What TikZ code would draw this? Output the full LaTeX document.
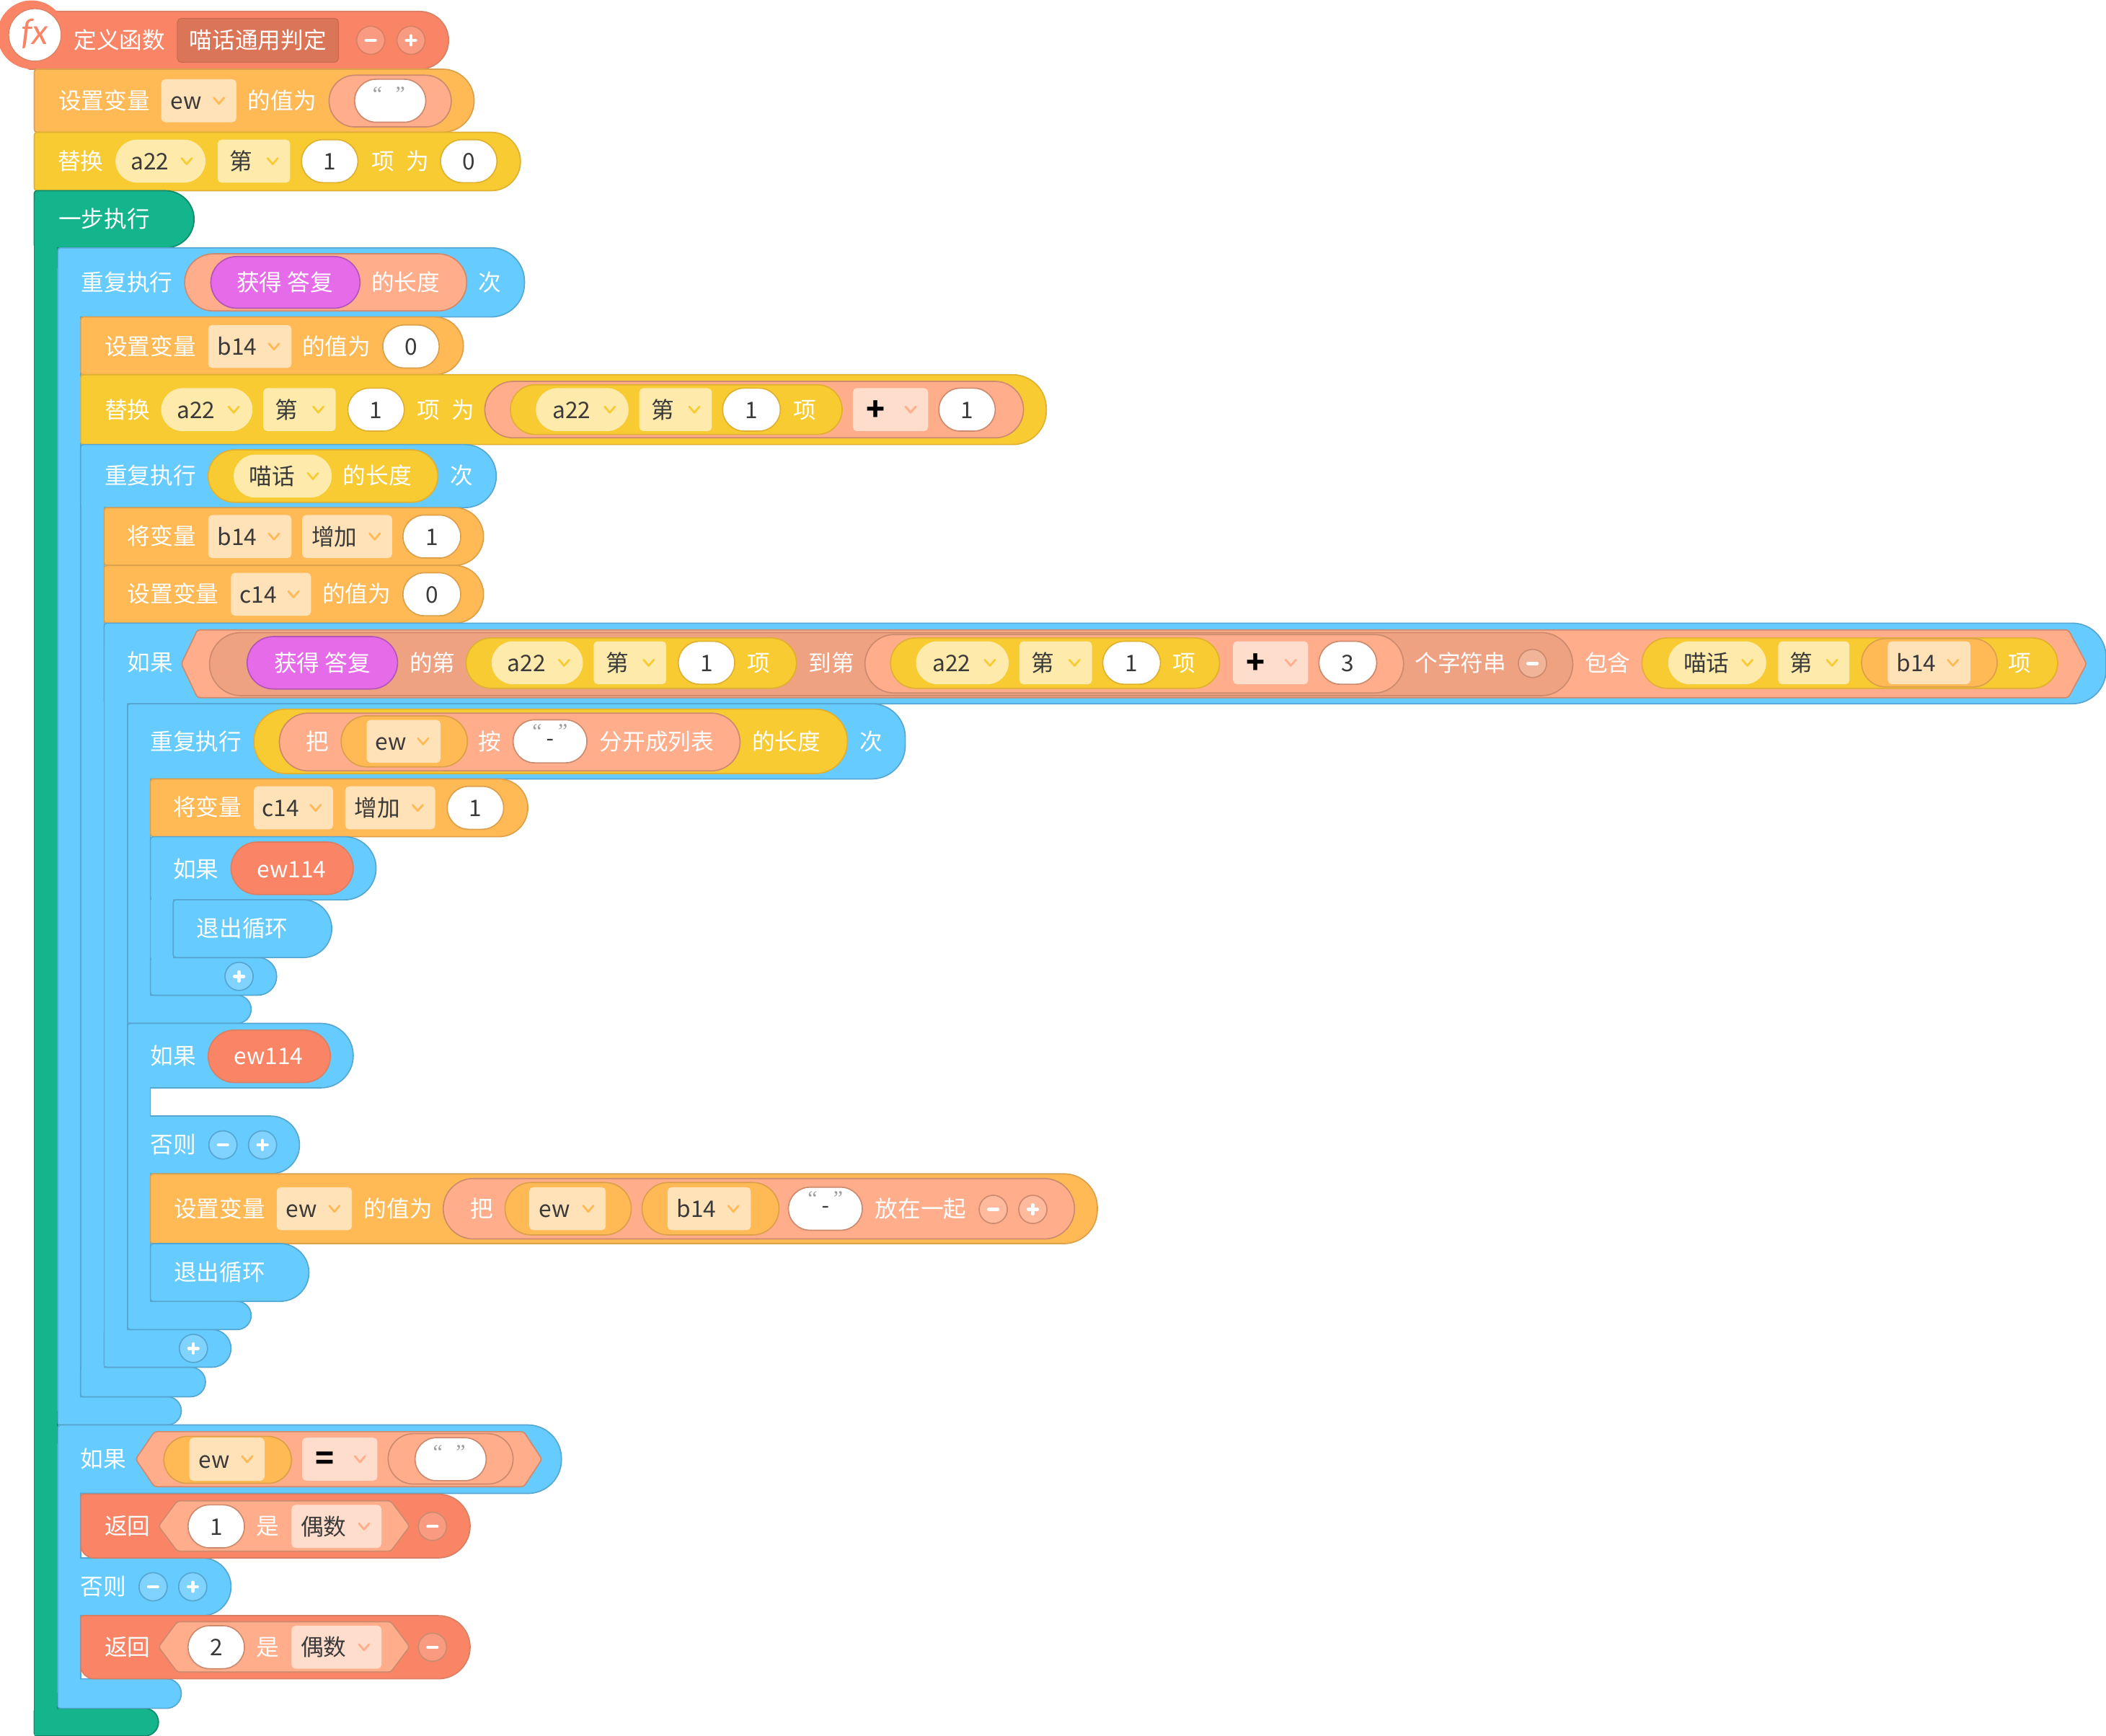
\documentclass[tikz,border=0pt]{standalone}
\usepackage{fontspec}
\setmainfont{Noto Sans CJK SC}
\newfontfamily\qfont{Liberation Serif}
\newfontfamily\fxfont{Lato}
\newcounter{nn}
\definecolor{csa}{HTML}{F98566}\definecolor{csad}{HTML}{D97F63}
\definecolor{cnm}{HTML}{DB7558}
\definecolor{cor}{HTML}{FFB955}\definecolor{cord}{HTML}{DDA04A}
\definecolor{cyl}{HTML}{F8CB33}\definecolor{cyld}{HTML}{E0B030}
\definecolor{cgr}{HTML}{14B48C}\definecolor{cgrd}{HTML}{0E8A6A}
\definecolor{cbl}{HTML}{66CCFF}\definecolor{cbld}{HTML}{55A6D0}
\definecolor{cpu}{HTML}{E66BE8}\definecolor{cpud}{HTML}{B455B8}
\definecolor{cpk}{HTML}{FFAD8A}\definecolor{cpkd}{HTML}{CC8A6E}
\definecolor{cdk}{HTML}{EEA282}
\definecolor{cobx}{HTML}{FFE2B8}\definecolor{cybx}{HTML}{FEEAAB}\definecolor{cpbx}{HTML}{FFDDCC}
\definecolor{ctx}{HTML}{3A3A3A}
\definecolor{cpb}{HTML}{FFB99D}\definecolor{cdb}{HTML}{F2B498}
\tikzset{
 bksa/.style={fill=csa,draw=csad,line width=.9pt},
 bkor/.style={fill=cor,draw=cord,line width=.9pt},
 bkyl/.style={fill=cyl,draw=cyld,line width=.9pt},
 bkgr/.style={fill=cgr,draw=cgrd,line width=.9pt},
 bkbl/.style={fill=cbl,draw=cbld,line width=.9pt},
 bkpu/.style={fill=cpu,draw=cpud,line width=.9pt},
 bkpk/.style={fill=cpk,draw=cpkd,line width=.9pt},
 bkdk/.style={fill=cdk,draw=cpkd,line width=.9pt},
 bkwh/.style={fill=white,draw=cpkd,line width=.9pt},
 bkwy/.style={fill=white,draw=cyld,line width=.9pt},
 bkwo/.style={fill=white,draw=cord,line width=.9pt},
 wlab/.style={text=white,inner sep=0pt,anchor=base,font=\fontsize{17}{17}\selectfont},
 dlab/.style={text=ctx,inner sep=0pt,anchor=base,font=\fontsize{17}{17}\selectfont},
 slab/.style={text=black,inner sep=0pt,anchor=base,font=\bfseries\fontsize{23}{23}\selectfont},
}
% block with a pill right end
\newcommand\sblk[5]{\pgfmathsetmacro\rr{min((#5-#3)/2,25)}%
 \draw[#1] (#2,{#5-4}) [rounded corners=2pt] -- (#2,#3) -- ({#2+5},#3) [rounded corners=\rr pt] -- (#4,#3) -- (#4,#5) -- ({#4-2*\rr-1},#5) [rounded corners=2pt] -- (#2,#5) -- cycle;}
% return block: round bottom left corner on a white notch
\newcommand\rblk[4]{\pgfmathsetmacro\rr{min((#4-#2)/2,25)}%
 \fill[white] (#1,{#4-14}) rectangle ({#1+14},#4);
 \draw[cbld,line width=.9pt] (#1,{#4-14}) -- (#1,#4) -- ({#1+14},#4);
 \draw[bksa] (#1,{#4-14}) [rounded corners=2pt] -- (#1,#2) -- ({#1+5},#2) [rounded corners=\rr pt] -- (#3,#2) -- (#3,#4) -- ({#3-2*\rr-1},#4) [rounded corners=10pt] -- (#1,#4) -- cycle;}
\newcommand\spn[5]{\draw[#1] (#2,#3) rectangle (#4,#5);}
\newcommand\pil[5]{\pgfmathsetmacro\rr{((#5)-(#3))/2}\draw[#1,rounded corners=\rr pt] (#2,{#3}) rectangle (#4,{#5});}
\newcommand\wt[3]{\stepcounter{nn}\node[wlab] (w\arabic{nn}) at ({#1},{#2+6.5}) {#3};}
\newcommand\dt[3]{\stepcounter{nn}\node[dlab] (d\arabic{nn}) at ({#1},{#2+6.5}) {#3};}
\newcommand\st[3]{\stepcounter{nn}\node[slab] (s\arabic{nn}) at ({#1},{#2+8}) {#3};}
\newcommand\chv[3]{\draw[#3,line width=1.5pt,line cap=round,line join=round] ({#1-3.8},{#2-2.2}) -- (#1,{#2+2.2}) -- ({#1+3.8},{#2-2.2});}
% drop-downs: {x0}{x1}{cy}{text}
\newcommand\ddb[6]{\draw[fill=#1,draw=none,rounded corners=3pt] (#3,{#5-16}) rectangle (#4,{#5+16});
 \dt{(#3+#4)/2-9.5}{#5}{#6}\chv{#4-13}{#5}{#2}}
\newcommand\ddp[6]{\draw[fill=#1,draw=none,rounded corners=16pt] (#3,{#5-16}) rectangle (#4,{#5+16});
 \dt{(#3+#4)/2-8}{#5}{#6}\chv{#4-14}{#5}{#2}}
\newcommand\obx[4]{\ddb{cobx}{cor}{#1}{#2}{#3}{#4}}
\newcommand\ybx[4]{\ddb{cybx}{cyl}{#1}{#2}{#3}{#4}}
\newcommand\ypl[4]{\ddp{cybx}{cyl}{#1}{#2}{#3}{#4}}
\newcommand\pbx[4]{\ddb{cpbx}{cpk}{#1}{#2}{#3}{#4}}
\newcommand\wpl[5][bkwh]{\pil{#1}{#2}{#4-16}{#3}{#4+16}\dt{(#2+#3)/2}{#4}{#5}}
\newcommand\qpl[3]{\pil{bkwh}{#1}{#3-16}{#2}{#3+16}%
 \stepcounter{nn}\node[inner sep=0pt,text=gray!75,font=\qfont\fontsize{16}{16}\selectfont] (q\arabic{nn}) at ({(#1+#2)/2-1},{#3-5}) {“\hspace{10pt}”};}
\newcommand\qdh[3]{\pil{bkwh}{#1}{#3-16}{#2}{#3+16}%
 \stepcounter{nn}\node[inner sep=0pt,text=gray!75,font=\qfont\fontsize{16}{16}\selectfont] (q\arabic{nn}) at ({(#1+#2)/2},{#3-5}) {“\makebox[12pt]{\color{ctx}\raisebox{-5pt}{-}}”};}
% buttons: {cx}{cy}{fill}{stroke}
\newcommand\bmn[4]{\draw[fill=#3,draw=#4,line width=.9pt] (#1,#2) circle (10.5);
 \draw[white,line width=2.4pt,line cap=round] ({#1-3.4},#2) -- ({#1+3.4},#2);}
\newcommand\bpl[4]{\bmn{#1}{#2}{#3}{#4}\draw[white,line width=2.4pt,line cap=round] (#1,{#2-3.4}) -- (#1,{#2+3.4});}
\definecolor{cbb}{HTML}{80D3FF}\definecolor{csb}{HTML}{F99B80}
\newcommand\hexa[6]{\draw[bkpk,rounded corners=2pt] (#1,{(#5+#6)/2}) -- (#2,#5) -- (#3,#5) -- (#4,{(#5+#6)/2}) -- (#3,#6) -- (#2,#6) -- cycle;}
\begin{document}
\begin{tikzpicture}[x=1pt,y=-1pt]
\useasboundingbox (0,0) rectangle (1568,1292.6);
% ---- define function
\sblk{bksa}{20}{8.5}{334}{51.5}
\fill[csa] (23.5,25.8) circle (25.5);
\draw[fill=white,draw=csad,line width=.6pt] (26,26) circle (19.5);
\stepcounter{nn}\node[inner sep=0pt,text=csa,font=\fxfont\itshape\fontsize{26}{26}\selectfont] (fx) at (26,25) {fx};
\wt{89}{30}{定义函数}
\draw[fill=cnm,draw=cnm!90!black,line width=.6pt,rounded corners=3pt] (132,13.6) rectangle (252,46.4);
\wt{192}{30}{喵话通用判定}
\bmn{276}{30}{csb}{csad}
\bpl{306}{30}{csb}{csad}
% ---- set ew
\sblk{bkor}{25.5}{51.5}{353}{98.5}
\wt{77.5}{75}{设置变量}
\obx{120}{176}{75}{ew}
\wt{210}{75}{的值为}
\pil{bkpk}{245}{56}{336}{94.5}
\qpl{264}{317}{75}
% ---- replace
\sblk{bkyl}{25.5}{98.5}{387.5}{142}
\wt{60}{120}{替换}
\ypl{86}{153}{120}{a22}
\ybx{162}{216}{120}{第}
\wpl[bkwy]{224.5}{266.5}{120}{1}
\wt{285}{120}{项}
\wt{311}{120}{为}
\wpl[bkwy]{328}{370}{120}{0}
% ---- one step
\spn{bkgr}{25.5}{160}{43}{1280}
\sblk{bkgr}{25.5}{142}{144.5}{184.5}
\sblk{bkgr}{25.5}{1272}{118}{1292.6}
\fill[cgr] (26,150) rectangle (42.6,1292);
\draw[cgrd,line width=.9pt] (25.5,150) -- (25.5,1290);
\wt{77.5}{163}{一步执行}
% ---- repeat 1
\spn{bkbl}{43}{200}{60}{1050}
\sblk{bkbl}{43}{184.5}{390.5}{236}
\sblk{bkbl}{43}{1040}{135}{1061}
\fill[cbl] (43.5,200) rectangle (59.6,1060);
\wt{94.5}{210}{重复执行}
\pil{bkpk}{137.5}{189}{347.5}{231.5}
\pil{bkpu}{157}{191}{268}{229.5}
\wt{212}{210}{获得 答复}
\wt{302}{210}{的长度}
\wt{364.5}{210}{次}
% set b14
\sblk{bkor}{60}{236}{345}{279}
\wt{112}{258}{设置变量}
\obx{155}{217}{258}{b14}
\wt{250.5}{258}{的值为}
\wpl[bkwo]{285}{327}{258}{0}
% replace 2
\sblk{bkyl}{60}{279}{779}{331}
\wt{95}{305}{替换}
\ypl{120}{188}{305}{a22}
\ybx{196}{250}{305}{第}
\wpl[bkwy]{259}{301}{305}{1}
\wt{319}{305}{项}
\wt{345}{305}{为}
\pil{bkpk}{361}{284}{762}{326}
\pil{bkyl}{380}{286.5}{627}{323.5}
\ypl{399}{468}{305}{a22}
\ybx{476}{530}{305}{第}
\wpl[bkwy]{538}{581}{305}{1}
\wt{599}{305}{项}
\pbx{635}{691}{305}{}
\st{652}{305}{+}
\wpl{699}{741}{305}{1}
% ---- repeat 2
\spn{bkbl}{60}{345}{77.5}{1030}
\sblk{bkbl}{60}{331}{369.5}{378}
\sblk{bkbl}{60}{1018}{153}{1040}
\fill[cbl] (60.5,345) rectangle (77.1,1039);
\wt{112}{354}{重复执行}
\pil{bkyl}{155}{335}{326}{374}
\ypl{174}{247}{354.5}{喵话}
\wt{281}{354}{的长度}
\wt{343.5}{354}{次}
% inc b14
\sblk{bkor}{77.5}{378}{360}{421}
\wt{120.5}{399}{将变量}
\obx{155}{217}{399.5}{b14}
\obx{225}{292}{399.5}{增加}
\wpl[bkwo]{300}{343}{399.5}{1}
% set c14
\sblk{bkor}{77.5}{421}{360}{464}
\wt{129}{442}{设置变量}
\obx{172}{231.5}{442.5}{c14}
\wt{265.5}{442}{的值为}
\wpl[bkwo]{300}{343}{442.5}{0}
% ---- big if
\spn{bkbl}{77.5}{480}{95}{1005}
\sblk{bkbl}{77.5}{464}{1568}{524}
\sblk{bkbl}{77.5}{990}{172}{1018}
\fill[cbl] (78,480) rectangle (94.6,1017);
\wt{112}{493}{如果}
\hexa{135}{147}{1540}{1553.5}{469}{519.5}
\pil{bkdk}{156}{471}{1171}{518}
\pil{bkpu}{184}{474}{296}{513}
\wt{240}{493.5}{获得 答复}
\wt{322}{493.5}{的第}
\pil{bkyl}{347}{475}{593}{512.5}
\ypl{366}{434}{493.5}{a22}
\ybx{442}{496}{493.5}{第}
\wpl[bkwy]{505}{547}{493.5}{1}
\wt{565}{493.5}{项}
\wt{619}{493.5}{到第}
\pil{bkpk}{644}{472.5}{1045}{516}
\pil{bkyl}{663}{475}{908}{512.5}
\ypl{682}{751}{493.5}{a22}
\ybx{759}{813}{493.5}{第}
\wpl[bkwy]{821}{864}{493.5}{1}
\wt{881.5}{493.5}{项}
\pbx{918}{974}{493.5}{}
\st{935}{493.5}{+}
\wpl{982}{1025}{493.5}{3}
\wt{1087.5}{493.5}{个字符串}
\bmn{1141}{494}{cdb}{cpkd}
\wt{1197}{493.5}{包含}
\pil{bkyl}{1222.5}{475}{1532}{512.5}
\ypl{1242}{1315}{493.5}{喵话}
\ybx{1324}{1377}{493.5}{第}
\pil{bkor}{1386}{475.5}{1487}{511.5}
\obx{1405.5}{1467}{493.5}{b14}
\wt{1503.5}{493.5}{项}
% ---- repeat 3
\spn{bkbl}{95}{535}{112}{750}
\sblk{bkbl}{95}{524}{674}{580}
\sblk{bkbl}{95}{741}{187}{762}
\fill[cbl] (95.5,535) rectangle (111.6,761);
\wt{146}{552}{重复执行}
\pil{bkyl}{189}{528}{631}{576}
\pil{bkpk}{208}{531}{551}{574}
\wt{236.5}{552}{把}
\pil{bkor}{254}{533}{348}{571}
\obx{273}{328}{552}{ew}
\wt{364.5}{552}{按}
\qdh{382}{437}{552}
\wt{489}{552}{分开成列表}
\wt{585.5}{552}{的长度}
\wt{648.5}{552}{次}
% inc c14
\sblk{bkor}{112}{580}{393}{623}
\wt{154.5}{601}{将变量}
\obx{189}{248}{601.5}{c14}
\obx{257}{324}{601.5}{增加}
\wpl[bkwo]{333}{375}{601.5}{1}
% ---- if ew114
\spn{bkbl}{112}{640}{129}{730}
\sblk{bkbl}{112}{623}{280}{670}
\sblk{bkbl}{112}{713}{206}{741}
\fill[cbl] (112.5,640) rectangle (128.6,740);
\wt{146}{647}{如果}
\pil{bksa}{172}{627}{263}{666}
\wt{217}{647}{ew114}
\sblk{bkbl}{129}{670}{247}{713}
\wt{180.5}{691}{退出循环}
\bpl{178}{727}{cbb}{cbld}
% ---- if else ew114
\spn{bkbl}{95}{775}{112}{980}
\sblk{bkbl}{95}{762}{263}{810}
\sblk{bkbl}{95}{831}{223}{874}
\sblk{bkbl}{95}{969}{187}{990}
\fill[cbl] (95.5,775) rectangle (111.6,989);
\wt{129}{786}{如果}
\pil{bksa}{155}{767}{246}{806}
\wt{200}{786}{ew114}
\wt{129}{852}{否则}
\bmn{166}{852.5}{cbb}{cbld}
\bpl{195.5}{852.5}{cbb}{cbld}
\sblk{bkor}{112}{874}{817}{926}
\wt{163.5}{900}{设置变量}
\obx{206}{262}{900}{ew}
\wt{296.5}{900}{的值为}
\pil{bkpk}{330}{877.5}{800}{922.5}
\wt{358.5}{900}{把}
\pil{bkor}{376}{880.5}{470}{919.5}
\obx{394}{451}{900}{ew}
\pil{bkor}{478}{880.5}{580}{919.5}
\obx{497}{559}{900}{b14}
\qdh{587}{642}{900}
\wt{685.5}{900}{放在一起}
\bmn{739.5}{900.5}{cpb}{cpkd}
\bpl{769}{900.5}{cpb}{cpkd}
\sblk{bkbl}{112}{926}{230}{969}
\wt{163.5}{947}{退出循环}
\bpl{144}{1004}{cbb}{cbld}
% ---- if / else return
\spn{bkbl}{43}{1075}{60}{1260}
\sblk{bkbl}{43}{1061}{418}{1112}
\sblk{bkbl}{43}{1160}{172}{1203}
\sblk{bkbl}{43}{1250}{135}{1272}
\fill[cbl] (43.5,1075) rectangle (59.6,1271);
\wt{77}{1086}{如果}
\hexa{101}{115}{390}{403.5}{1066}{1107}
\pil{bkor}{122}{1069.5}{217}{1104.5}
\obx{141}{197}{1086.5}{ew}
\pbx{225}{281}{1086.5}{}
\st{242}{1086.5}{=}
\pil{bkpk}{289}{1067.5}{382}{1105}
\qpl{309}{362}{1086.5}
\rblk{60}{1112.5}{350}{1160}
\wt{95}{1136}{返回}
\hexa{118}{132}{291}{305}{1117.5}{1155}
\wpl{140}{182}{1136.5}{1}
\wt{199.5}{1136}{是}
\pbx{217}{284}{1136.5}{偶数}
\bmn{322}{1136.5}{csb}{cpkd}
\wt{77}{1181}{否则}
\bmn{114}{1181.5}{cbb}{cbld}
\bpl{143.5}{1181.5}{cbb}{cbld}
\rblk{60}{1203}{350}{1250}
\wt{95}{1226}{返回}
\hexa{118}{132}{291}{305}{1207.5}{1245}
\wpl{140}{182}{1226.5}{2}
\wt{199.5}{1226}{是}
\pbx{217}{284}{1226.5}{偶数}
\bmn{322}{1226.5}{csb}{cpkd}
\end{tikzpicture}
\end{document}
